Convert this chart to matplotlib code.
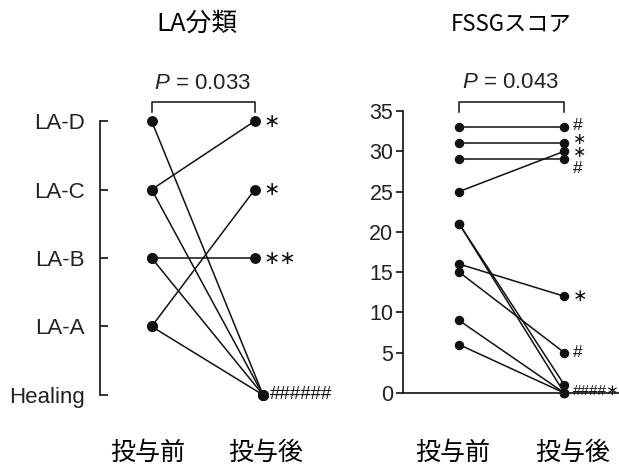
import numpy as np
import matplotlib.pyplot as plt

plt.rcParams['font.family'] = ['Liberation Sans', 'DejaVu Sans']
plt.rcParams['mathtext.fontset'] = 'custom'
plt.rcParams['mathtext.it'] = 'Liberation Sans:italic'
plt.rcParams['mathtext.rm'] = 'Liberation Sans'

# LA分類 (0=Healing ... 4=LA-D)
la_labels = ['Healing', 'LA-A', 'LA-B', 'LA-C', 'LA-D']
la_before = [4, 3, 3, 2, 2, 1, 1]
la_after = [0, 4, 0, 2, 0, 3, 0]
la_marks = ['∗', '∗', '∗∗', '######']
la_mark_y = [4, 3, 2, 0]
la_p = '$P$ = 0.033'

# FSSGスコア
fssg_before = [33, 31, 29, 25, 21, 21, 16, 15, 9, 6]
fssg_after = [33, 31, 29, 30, 1, 0, 12, 5, 0, 0]
fssg_ticks = [0, 5, 10, 15, 20, 25, 30, 35]
fssg_marks = ['#', '∗', '∗', '#', '∗', '#', '####∗']
fssg_mark_y = [33.2, 31.5, 29.9, 27.9, 12, 5, 0.3]
fssg_p = '$P$ = 0.043'

titles = ['LA分類', 'FSSGスコア']
groups = ['投与前', '投与後']

cjk = ['Noto Sans CJK JP', 'DejaVu Sans']
ink = '#111111'
txt = '#222222'

fig = plt.figure(figsize=(6.19, 4.66), dpi=100)

# ---- left panel
ax1 = fig.add_axes([0.1616, 0.1377, 0.3835, 0.6173])
for b, a in zip(la_before, la_after):
    xa = 1.08 if a == 0 else 1
    ax1.plot([0, xa], [b, a], '-o', color=ink, lw=1.1, ms=6.8, clip_on=False)
ax1.set_xlim(-0.5, 1.8)
ax1.set_ylim(-0.1, 4.1)
for s in ['top', 'right', 'bottom']:
    ax1.spines[s].set_visible(False)
ax1.spines['left'].set_bounds(0, 4)
ax1.spines['left'].set_color(ink)
ax1.spines['left'].set_linewidth(1.2)
ax1.set_yticks(range(len(la_labels)))
ax1.set_yticklabels(la_labels)
ax1.tick_params(axis='y', direction='in', length=6, width=1.2, pad=11,
                labelsize=16, labelcolor=txt, color=ink)
ax1.set_xticks([])
for m, y in zip(la_mark_y, la_marks):
    x = 1.15 if m == 0 else 1.08
    ax1.text(x, m, y, ha='left', va='center', fontsize=14 if m else 13.5,
             color=ink, family=['DejaVu Sans'] if m else ['Liberation Sans'])
ax1.plot([0, 0, 1, 1], [4.13, 4.28, 4.28, 4.13], color=ink, lw=1.1, clip_on=False)
ax1.text(0.49, 4.55, la_p, ha='center', va='center', fontsize=16, color=txt)

# ---- right panel
ax2 = fig.add_axes([0.6511, 0.1567, 0.349, 0.6052])
for b, a in zip(fssg_before, fssg_after):
    ax2.plot([0, 1], [b, a], '-o', color=ink, lw=1.1, ms=5.8, clip_on=False)
ax2.set_xlim(-0.533, 1.52)
ax2.set_ylim(0, 35)
for s in ['top', 'right']:
    ax2.spines[s].set_visible(False)
ax2.spines['left'].set_bounds(0, 35)
for s in ['left', 'bottom']:
    ax2.spines[s].set_color(ink)
    ax2.spines[s].set_linewidth(1.2)
ax2.set_yticks(fssg_ticks)
ax2.tick_params(axis='y', direction='out', length=5, width=1.2, pad=2,
                labelsize=15.5, labelcolor=txt, color=ink)
ax2.set_xticks([])
for m, y in zip(fssg_mark_y, fssg_marks):
    if len(y) > 1:
        fs = 11
    elif 29 < m < 32:
        fs = 11.5
    else:
        fs = 12.5
    ax2.text(1.08, m, y, ha='left', va='center', fontsize=fs, color=ink,
             family=['Liberation Sans', 'DejaVu Sans'])
ax2.plot([0, 0, 1, 1], [34.9, 36.1, 36.1, 34.9], color=ink, lw=1.1, clip_on=False)
ax2.text(0.49, 38.5, fssg_p, ha='center', va='center', fontsize=16, color=txt)

# ---- titles and group labels
fig.text(197 / 619, 1 - 24 / 466, titles[0], ha='center', va='center',
         fontsize=18.5, family=cjk)
fig.text(511 / 619, 1 - 24 / 466, titles[1], ha='center', va='center',
         fontsize=16, family=cjk)
for xc, g in zip([148, 266, 453, 573], groups * 2):
    fig.text(xc / 619, 1 - 453 / 466, g, ha='center', va='center',
             fontsize=18, family=cjk)

fig.savefig('out.png', dpi=100)
